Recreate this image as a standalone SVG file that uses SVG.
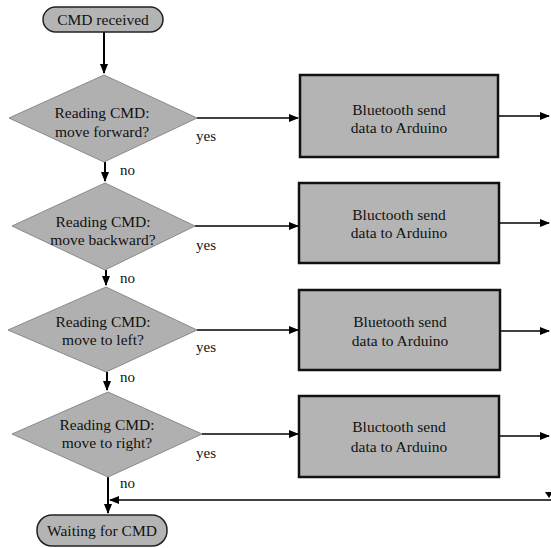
<svg xmlns="http://www.w3.org/2000/svg" width="551" height="548" viewBox="0 0 551 548">
<defs>
<marker id="ah" markerWidth="10" markerHeight="8" refX="9" refY="4" orient="auto" markerUnits="userSpaceOnUse">
<path d="M0,0 L10,4 L0,8 z" fill="#000"/>
</marker>
<style>
.t{font-family:"Liberation Serif","Times New Roman",serif;font-size:15.5px;fill:#111;text-anchor:middle}
.l{font-family:"Liberation Serif","Times New Roman",serif;font-size:15px;fill:#111}
.term{fill:#b4b4b4;stroke:#222;stroke-width:1.5}
.dia{fill:#b0b0b0;stroke:#8a8a8a;stroke-width:1}
.box{fill:#b4b4b4;stroke:#111;stroke-width:2.5}
.c{stroke:#000;stroke-width:2;fill:none}
.c1{stroke:#000;stroke-width:1.5;fill:none}
</style>
</defs>
<rect width="551" height="548" fill="#fff"/>

<g id="connectors">
<path class="c" d="M104,32 V73" marker-end="url(#ah)"/>
<path class="c" d="M105,162 V181" marker-end="url(#ah)"/>
<path class="c" d="M106,270 V285" marker-end="url(#ah)"/>
<path class="c" d="M107,372 V390" marker-end="url(#ah)"/>
<path class="c" d="M108,477 V513" marker-end="url(#ah)"/>
<path class="c1" d="M197,118 H298" marker-end="url(#ah)"/>
<path class="c1" d="M195,226 H298" marker-end="url(#ah)"/>
<path class="c1" d="M197,330 H298" marker-end="url(#ah)"/>
<path class="c1" d="M202,434 H298" marker-end="url(#ah)"/>
<path class="c1" d="M499,116 H549" marker-end="url(#ah)"/>
<path class="c1" d="M500,223 H549" marker-end="url(#ah)"/>
<path class="c1" d="M501,331 H549" marker-end="url(#ah)"/>
<path class="c1" d="M500,436 H549" marker-end="url(#ah)"/>
<path class="c1" d="M551,500 H110" marker-end="url(#ah)"/>
<path d="M545,492 L553,492 L549,498 z" fill="#000"/>
<text class="l" x="196" y="141">yes</text>
<text class="l" x="196" y="250">yes</text>
<text class="l" x="196" y="352">yes</text>
<text class="l" x="196" y="458">yes</text>
<text class="l" x="120" y="175">no</text>
<text class="l" x="120" y="283">no</text>
<text class="l" x="120" y="382">no</text>
<text class="l" x="120" y="488">no</text>
</g>

<g id="start">
<rect class="term" x="43" y="7" width="120" height="25" rx="12.5"/>
<text class="t" x="103" y="25">CMD received</text>
</g>

<g id="d1">
<polygon class="dia" points="104,75 197,118 104,162 9,118"/>
<text class="t" x="102" y="118">Reading CMD:</text>
<text class="t" x="102" y="137">move forward?</text>
</g>
<g id="d2">
<polygon class="dia" points="105,183 195,226 105,270 12,226"/>
<text class="t" x="103" y="227">Reading CMD:</text>
<text class="t" x="103" y="245">move backward?</text>
</g>
<g id="d3">
<polygon class="dia" points="106,287 197,330 106,372 8,330"/>
<text class="t" x="103" y="327">Reading CMD:</text>
<text class="t" x="103" y="345">move to left?</text>
</g>
<g id="d4">
<polygon class="dia" points="108,392 202,434 108,477 12,434"/>
<text class="t" x="107" y="430">Reading CMD:</text>
<text class="t" x="107" y="448">move to right?</text>
</g>

<g id="b1">
<rect class="box" x="300" y="75" width="198" height="82"/>
<text class="t" x="399" y="115">Bluetooth send</text>
<text class="t" x="399" y="133">data to Arduino</text>
</g>
<g id="b2">
<rect class="box" x="299" y="183" width="200" height="80"/>
<text class="t" x="399" y="220">Bluctooth send</text>
<text class="t" x="399" y="238">data to Arduino</text>
</g>
<g id="b3">
<rect class="box" x="299" y="290" width="201" height="80"/>
<text class="t" x="400" y="327">Bluetooth send</text>
<text class="t" x="400" y="346">data to Arduino</text>
</g>
<g id="b4">
<rect class="box" x="299" y="396" width="200" height="81"/>
<text class="t" x="399" y="432">Bluctooth send</text>
<text class="t" x="399" y="452">data to Arduino</text>
</g>

<g id="end">
<rect class="term" x="37" y="515" width="130" height="31" rx="15"/>
<text class="t" x="102" y="536">Waiting for CMD</text>
</g>
</svg>
